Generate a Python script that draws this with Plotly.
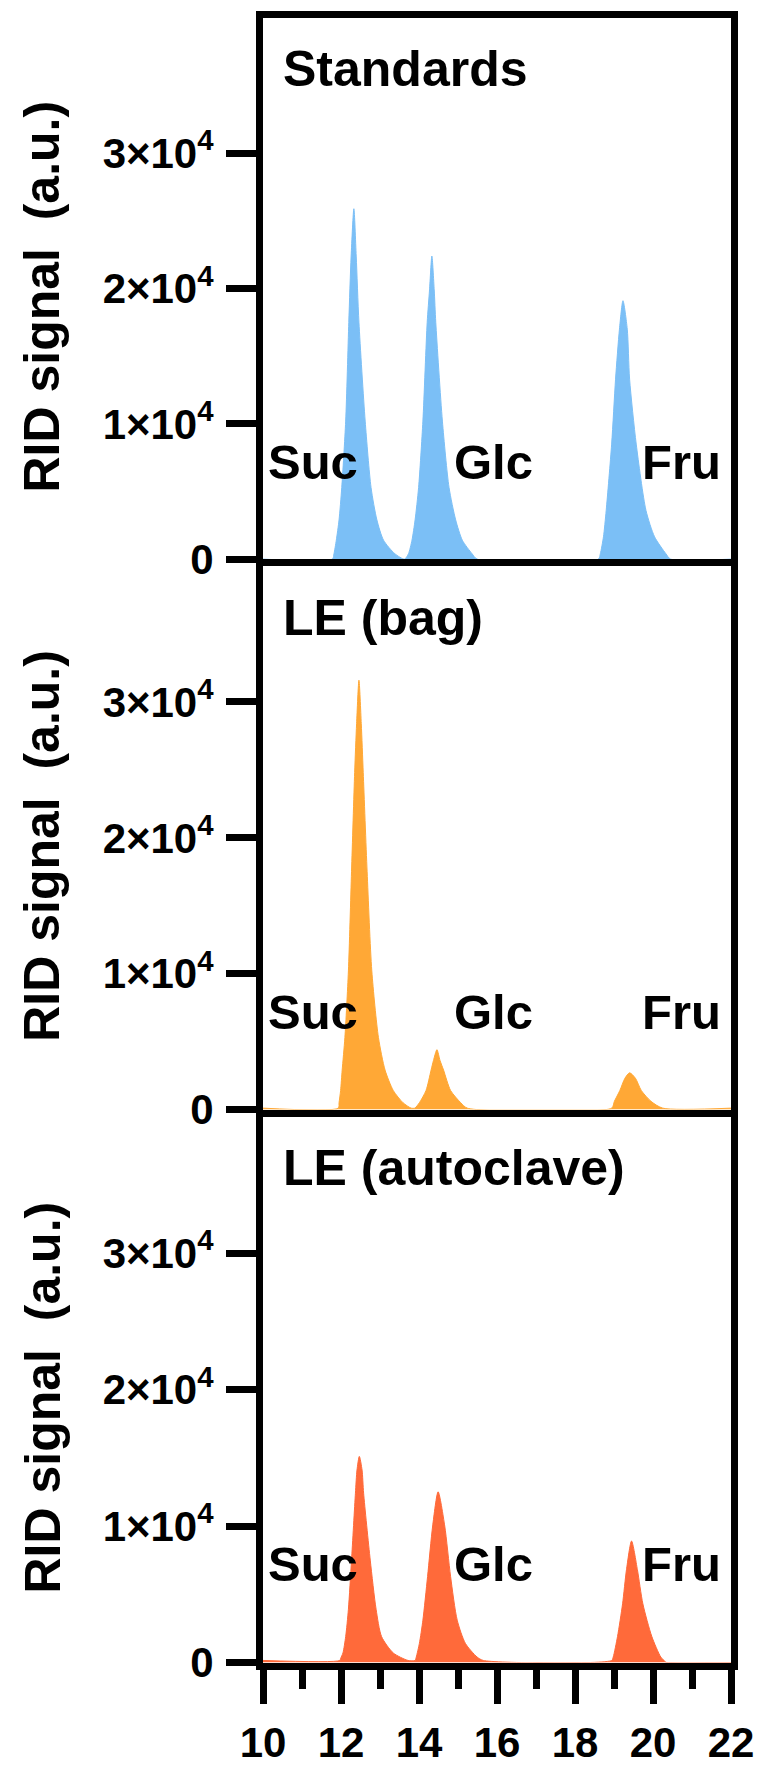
import plotly.graph_objects as go

# ---------------- data ----------------
std_time = [10.0, 11.78, 11.82, 11.88, 11.95, 12.02, 12.12, 12.20, 12.26, 12.33, 12.39, 12.46, 12.62, 12.77, 12.92, 13.09, 13.38, 13.63,
            13.73, 13.82, 13.90, 13.99, 14.10, 14.21, 14.27, 14.33, 14.39, 14.43, 14.60, 14.77, 14.94, 15.11, 15.36, 15.49,
            18.60, 18.65, 18.73, 18.80, 18.94, 19.04, 19.14, 19.23, 19.34, 19.40, 19.57, 19.82, 20.04, 20.33, 20.45, 22.0]
std_signal = [0, 0, 400, 1400, 2900, 5300, 10200, 17500, 22400, 25900, 22400, 17500, 10200, 5300, 2900, 1400, 400, 0,
              400, 1400, 2900, 5300, 10200, 17500, 19900, 22400, 19900, 17500, 10200, 5300, 2900, 1400, 400, 0,
              0, 400, 1650, 3600, 8500, 13300, 17000, 19100, 17000, 13300, 8500, 3600, 1650, 400, 0, 0]

bag_time = [10.0, 11.93, 11.95, 11.99, 12.03, 12.10, 12.19, 12.27, 12.35, 12.40, 12.46, 12.52, 12.57, 12.67, 12.79, 12.96, 13.13, 13.34, 13.59, 13.80,
            13.89, 14.01, 14.18, 14.31, 14.37, 14.46, 14.54, 14.63, 14.81, 15.07, 15.24,
            18.94, 19.01, 19.15, 19.28, 19.40, 19.55, 19.70, 19.95, 20.25, 22.0]
bag_signal = [100, 100, 500, 1400, 2900, 5300, 10200, 17500, 24800, 28400, 31600, 28400, 24800, 17500, 10200, 5300, 2900, 1400, 500, 100,
              100, 500, 1400, 2900, 3600, 4400, 3600, 2900, 1400, 500, 100,
              100, 600, 1400, 2300, 2700, 2300, 1400, 600, 100, 100]

auto_time = [10.0, 11.97, 11.99, 12.05, 12.12, 12.19, 12.27, 12.37, 12.41, 12.47, 12.54, 12.58, 12.75, 12.90, 13.04, 13.34, 13.72,
             13.90, 13.93, 14.01, 14.10, 14.22, 14.35, 14.49, 14.66, 14.81, 14.98, 15.19, 15.49, 15.65,
             18.94, 18.98, 19.09, 19.22, 19.32, 19.45, 19.60, 19.74, 19.97, 20.20, 20.30, 20.35, 22.0]
auto_signal = [150, 150, 300, 700, 1900, 3900, 7500, 12400, 14100, 15100, 14100, 12400, 7500, 3900, 1900, 700, 150,
               150, 400, 1400, 3100, 6300, 10000, 12500, 10000, 6300, 3100, 1400, 400, 150,
               150, 400, 1900, 4300, 6800, 8900, 6800, 4300, 1900, 400, 100, 0, 0]

panel_titles = ["Standards", "LE (bag)", "LE (autoclave)"]
peak_names = ["Suc", "Glc", "Fru"]
peak_label_x = [11.28, 15.9, 20.73]
peak_label_y = 7200
title_x = 10.45
title_y = 36200

y_tickvals = [0, 10000, 20000, 30000]
y_ticktext = ["0", "1×10<sup>4</sup>", "2×10<sup>4</sup>", "3×10<sup>4</sup>"]
x_tickvals = [10, 12, 14, 16, 18, 20, 22]
x_ticktext = ["10", "12", "14", "16", "18", "20", "22"]
y_title = "RID signal\u00a0\u00a0(a.u.)"

colors = ["#7BBFF6", "#FFA836", "#FF6A3A"]
series = [(std_time, std_signal), (bag_time, bag_signal), (auto_time, auto_signal)]

# ---------------- layout geometry ----------------
W, H = 769, 1769
LW = 7
FONT = "Liberation Sans, Arial, sans-serif"

def py(p):
    return 1 - p / H

x_dom = [263 / W, 731 / W]
# (top px, bottom px) of each plot area
panels_px = [(18, 559.1), (566.1, 1109.5), (1116.5, 1662.5)]

fig = go.Figure()
annotations = []
for i, ((t, s), col) in enumerate(zip(series, colors)):
    n = "" if i == 0 else str(i + 1)
    fig.add_trace(go.Scatter(x=t, y=s, mode="lines", fill="tozeroy",
                             fillcolor=col,
                             line=dict(color=col, width=1, shape="spline", smoothing=0.7),
                             xaxis="x" + n, yaxis="y" + n, showlegend=False,
                             hoverinfo="skip"))
    top, bot = panels_px[i]
    ydom = [py(bot), py(top)]
    last = (i == 2)
    xa = dict(domain=x_dom, anchor="y" + n, range=[10, 22], automargin=False,
              showline=True, linewidth=LW, linecolor="black",
              mirror=(i == 0), showgrid=False, zeroline=False,
              tickvals=x_tickvals, ticktext=x_ticktext,
              showticklabels=last,
              ticks="outside" if last else "",
              ticklen=34, tickwidth=LW, tickcolor="black",
              tickfont=dict(family=FONT, size=42, color="black", weight="bold"),
              ticklabelstandoff=3)
    if last:
        xa["minor"] = dict(ticks="outside", ticklen=19, tickwidth=LW,
                           tickcolor="black", dtick=1, tick0=10)
    ya = dict(domain=ydom, anchor="x" + n, range=[0, 40000], automargin=False,
              showline=True, linewidth=LW, linecolor="black", mirror=True,
              showgrid=False, zeroline=False,
              tickvals=y_tickvals, ticktext=y_ticktext,
              ticks="outside", ticklen=30, tickwidth=LW, tickcolor="black",
              tickfont=dict(family=FONT, size=42, color="black", weight="bold"),
              ticklabelstandoff=4)
    fig.update_layout(**{"xaxis" + n: xa, "yaxis" + n: ya})

    annotations.append(dict(x=title_x, y=title_y, xref="x" + n, yref="y" + n,
                            text=panel_titles[i], showarrow=False,
                            xanchor="left", yanchor="middle",
                            font=dict(family=FONT, size=50, color="black", weight="bold")))
    for nm, lx in zip(peak_names, peak_label_x):
        annotations.append(dict(x=lx, y=peak_label_y, xref="x" + n, yref="y" + n,
                                text=nm, showarrow=False,
                                xanchor="center", yanchor="middle",
                                font=dict(family=FONT, size=49, color="black", weight="bold")))
    centre = (top + bot) / 2 + 8
    annotations.append(dict(x=42 / W, y=py(centre), xref="paper", yref="paper",
                            text=y_title, showarrow=False, textangle=-90,
                            xanchor="center", yanchor="middle",
                            font=dict(family=FONT, size=50, color="black", weight="bold")))

fig.update_layout(width=W, height=H, margin=dict(l=0, r=0, t=0, b=0, autoexpand=False),
                  paper_bgcolor="white", plot_bgcolor="white",
                  annotations=annotations)

fig.write_html("out.html")
